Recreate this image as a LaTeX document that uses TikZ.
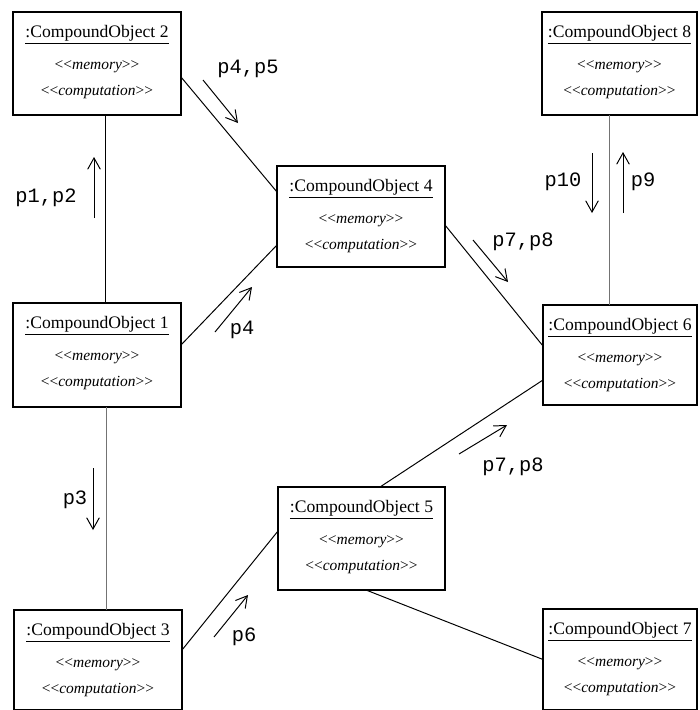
\documentclass[tikz,border=0pt]{standalone}
\usepackage{fontspec}
\setmainfont{Liberation Serif}
\setmonofont{Liberation Mono}
\usetikzlibrary{arrows.meta,calc}
\definecolor{lienfin}{gray}{0.45}
\newcommand{\stereo}[1]{<\kern0pt<\textit{#1}>\kern0pt>}

\begin{document}
\begin{tikzpicture}[x=0.025cm, y=-0.025cm,
  objbox/.style={draw, line width=2pt, inner sep=0pt, outer sep=0pt},
  objtitle/.style={font=\fontsize{12.5}{14}\selectfont},
  objline/.style={font=\fontsize{11}{13}\selectfont},
  lien/.style={line width=0.7pt},
  lienclair/.style={lien, lienfin},
  msg/.style={line width=0.7pt, -{Straight Barb[length=8pt,width=9pt]}},
  msglabel/.style={font=\ttfamily\fontsize{14.5}{16}\selectfont, inner sep=0pt}]
  \useasboundingbox (0,0) rectangle (699,710);
  % objets composes
  \foreach \n/\x/\y/\w/\h in {2/97/63.5/168/103, 8/619.5/63.5/155/103,
      4/361/216.5/168/101, 1/97/355/168/104, 6/620/355/154/100,
      5/361.5/538.5/167/103, 3/98/660/168/100, 7/620/659.5/154/101} {
    \node[objbox, minimum width=\w*0.025cm, minimum height=\h*0.025cm] (b\n) at (\x,\y) {};
    \node[objtitle] (t\n) at ($(b\n.north)+(0,23)$) {\underline{:CompoundObject \n}};
    \node[objline] (m\n) at ($(b\n.north)+(0,55)$) {\stereo{memory}};
    \node[objline] (c\n) at ($(b\n.north)+(0,80)$) {\stereo{computation}};
  }
  % liens
  \draw[lien] ($(b2.south)+(8,0)$) -- ($(b1.north)+(8,0)$);
  \draw[lienclair] ($(b1.south)+(9,0)$) -- ($(b3.north)+(8,0)$);
  \draw[lien] ($(b2.east)+(0,13.5)$) -- ($(b4.west)+(0,-24.5)$);
  \draw[lien] ($(b1.east)+(0,-10)$) -- ($(b4.west)+(0,28.5)$);
  \draw[lien] ($(b4.east)+(0,8.5)$) -- ($(b6.west)+(0,-9)$);
  \draw[lien] ($(b5.north)+(18.5,0)$) -- ($(b6.west)+(0,25)$);
  \draw[lien] ($(b3.east)+(0,-10)$) -- ($(b5.west)+(0,-7.5)$);
  \draw[lien] ($(b5.south)+(4.5,0)$) -- (b7.west);
  \draw[lienclair] ($(b8.south)+(-10.5,0)$) -- ($(b6.north)+(-11,0)$);
  % messages
  \foreach \nom/\xa/\ya/\xb/\yb in {p12/94/218/94/157, p45/203/80/238/123,
      p4/215/332/252/287, p78h/473/240/508/282, p10/592/153/592/213,
      p9/623/213/623/152, p78b/459/454/507/425, p3/93/468/93/530,
      p6/214/637/248/595} {
    \coordinate (\nom a) at (\xa,\ya);
    \coordinate (\nom b) at (\xb,\yb);
    \draw[msg] (\nom a) -- (\nom b);
  }
  \node[msglabel] (lp12) at (46,198) {p1,p2};
  \node[msglabel] (lp45) at (248,69) {p4,p5};
  \node[msglabel] (lp4) at (242,330) {p4};
  \node[msglabel] (lp78h) at (523,242) {p7,p8};
  \node[msglabel] (lp10) at (563,182) {p10};
  \node[msglabel] (lp9) at (643,182) {p9};
  \node[msglabel] (lp78b) at (513,467) {p7,p8};
  \node[msglabel] (lp3) at (75,500) {p3};
  \node[msglabel] (lp6) at (244,637) {p6};
\end{tikzpicture}
\end{document}
